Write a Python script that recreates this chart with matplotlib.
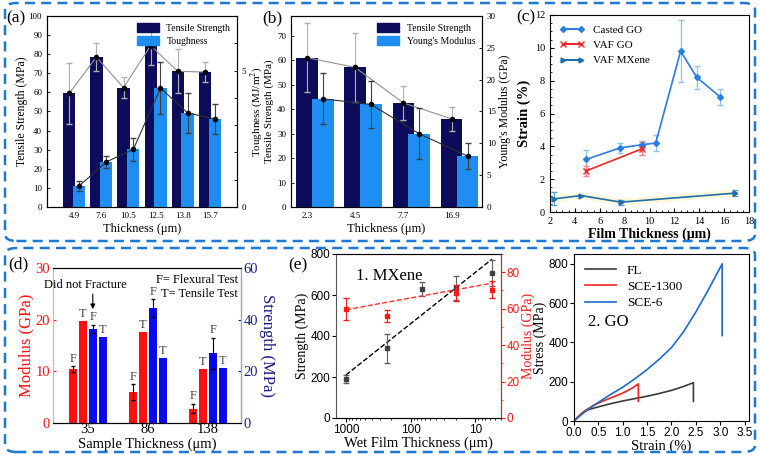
import matplotlib
matplotlib.use("Agg")
import matplotlib.pyplot as plt
import numpy as np
from matplotlib.patches import FancyBboxPatch, Patch
from matplotlib.lines import Line2D

# ---- data: (a) cast GO films
a_thick = ["4.9", "7.6", "10.5", "12.5", "13.8", "15.7"]
a_strength = [59.5, 78.5, 62.5, 84.5, 71.0, 70.7]
a_strength_err = [16.0, 7.5, 5.5, 10.0, 11.5, 5.3]
a_tough = [0.77, 1.65, 2.11, 4.36, 3.45, 3.23]
a_tough_err = [0.18, 0.21, 0.42, 0.96, 0.74, 0.55]

# ---- data: (b) MXene films
b_thick = ["2.3", "4.5", "7.7", "16.9"]
b_strength = [61.0, 57.0, 42.5, 36.0]
b_strength_err = [14.0, 14.0, 7.0, 5.0]
b_modulus = [17.0, 16.1, 11.5, 8.0]
b_modulus_err = [4.0, 3.7, 4.0, 2.0]

# ---- data: (c) strain
cg_x = [4.9, 7.6, 9.4, 10.5, 12.5, 13.8, 15.7]
cg_y = [3.2, 3.9, 4.1, 4.2, 9.8, 8.2, 7.0]
cg_err = [0.6, 0.3, 0.25, 0.5, 1.9, 0.7, 0.5]
vg_x = [4.9, 9.4]
vg_y = [2.5, 3.85]
vg_err = [0.3, 0.4]
vm_x = [2.3, 4.5, 7.7, 16.9]
vm_y = [0.8, 1.0, 0.6, 1.15]
vm_err = [0.4, 0.05, 0.15, 0.2]

# ---- data: (d) flexural / tensile
d_thick = ["35", "86", "138"]
mod_flex = [10.4, 6.0, 2.8]
mod_flex_err = [0.6, 1.5, 0.9]
mod_tens = [19.8, 17.7, 10.5]
str_flex = [36.5, 44.4, 27.0]
str_flex_err = [1.5, 3.5, 6.0]
str_tens = [33.4, 25.0, 21.2]

# ---- data: (e) MXene vs wet film thickness
wet = [1000, 233, 67, 20, 5.5]
mx_strength = [192, 340, 630, 635, 707]
mx_strength_err = [20, 70, 35, 60, 65]
wet_mod = [1000, 233, 20, 5.5]
mx_modulus = [60.0, 56.0, 68.5, 70.5]
mx_modulus_err = [6.0, 3.5, 4.5, 4.5]
fit_x = [1000, 5.5]
fit_strength = [210, 775]
fit_modulus = [59.4, 74.0]

# ---- data: (e) GO stress-strain
fl_strain = [0, 0.1, 0.2, 0.3, 0.5, 0.75, 1.0, 1.25, 1.5, 1.75, 2.0, 2.25, 2.45, 2.45]
fl_stress = [0, 25, 45, 58, 72, 88, 102, 114, 126, 140, 156, 176, 195, 100]
sce13_strain = [0, 0.1, 0.2, 0.4, 0.6, 0.8, 1.0, 1.2, 1.32, 1.32]
sce13_stress = [0, 25, 48, 80, 102, 122, 142, 168, 189, 100]
sce6_strain = [0, 0.1, 0.25, 0.5, 0.75, 1.0, 1.25, 1.5, 1.75, 2.0, 2.25, 2.5, 2.75, 3.04, 3.04]
sce6_stress = [0, 22, 52, 95, 135, 172, 215, 262, 315, 374, 455, 555, 665, 800, 435]

NAVY = "#0c0c5a"
LBLUE = "#1e8ff0"
SERIF = "Liberation Serif"
SANS = "Liberation Sans"

plt.rcParams["font.family"] = SERIF
plt.rcParams["mathtext.fontset"] = "stix"

W, H = 760, 455
fig = plt.figure(figsize=(7.6, 4.55), dpi=100)


def px_axes(l, t, r, b):
    return fig.add_axes([l / W, 1 - b / H, (r - l) / W, (b - t) / H])


# dashed boxes round the two rows
for (l, t, r, b) in [(5, 3, 755, 241), (5, 248, 755, 452)]:
    box = FancyBboxPatch((l / W, 1 - b / H), (r - l) / W, (b - t) / H,
                         boxstyle="round,pad=0,rounding_size=0.015",
                         transform=fig.transFigure, fill=False,
                         edgecolor="#1f78d1", lw=1.8, ls=(0, (4, 2.5)))
    fig.patches.append(box)

# ================= (a)
ax = px_axes(47, 16, 237, 207)
x = np.arange(len(a_thick))
ax.bar(x - 0.18, a_strength, 0.45, color=NAVY, zorder=2)
ax.errorbar(x - 0.18, a_strength, yerr=a_strength_err, fmt="none",
            ecolor="#b0b0b0", elinewidth=0.8, capsize=2, zorder=3)
ax.plot(x - 0.18, a_strength, "-o", color="#909090", mfc="k", mec="k",
        ms=3, lw=0.8, zorder=4)
ax.set_xlim(-1, 6)
ax.set_ylim(0, 100)
ax.set_yticks(range(0, 101, 10))
ax.set_xticks(x)
ax.set_xticklabels(a_thick)
ax.tick_params(labelsize=6.5, direction="in", length=2, width=0.6)
ax.tick_params(axis="x", length=0)
ax.set_ylabel("Tensile Strength (MPa)", fontsize=8.5)
ax.yaxis.set_label_coords(-0.1, 0.5)
ax.set_xlabel("Thickness (\u03bcm)", fontsize=9, labelpad=2)
ax2 = ax.twinx()
ax2.bar(x + 0.18, a_tough, 0.45, color=LBLUE, zorder=2)
ax2.errorbar(x + 0.18, a_tough, yerr=a_tough_err, fmt="none",
             ecolor="#404040", elinewidth=0.8, capsize=2, zorder=3)
ax2.plot(x + 0.18, a_tough, "-o", color="#303030", mfc="k", mec="k",
         ms=3, lw=0.8, zorder=4)
ax2.set_ylim(0, 7)
ax2.set_yticks(range(0, 8))
ax2.set_yticklabels(["0", "", "", "", "", "5", "", ""])
ax2.tick_params(labelsize=6.5, direction="in", length=2, width=0.6)
ax2.set_ylabel("Toughness (MJ/m$^2$)", fontsize=8)
ax2.yaxis.set_label_coords(1.058, 0.5)
ax2.legend(handles=[Patch(color=NAVY), Patch(color=LBLUE)],
           labels=["Tensile Strength", "Toughness"], loc="upper right",
           frameon=False, fontsize=7, handlelength=2.2, handleheight=1.1,
           borderaxespad=0.3, labelspacing=0.3)
fig.text(6 / W, 1 - 18 / H, "(a)", fontsize=12.5, va="center")

# ================= (b)
ax = px_axes(291, 16, 482, 207)
x = np.arange(len(b_thick))
ax.bar(x, b_strength, 0.45, color=NAVY, zorder=2)
ax.errorbar(x, b_strength, yerr=b_strength_err, fmt="none",
            ecolor="#b0b0b0", elinewidth=0.8, capsize=2, zorder=3)
ax.plot(x, b_strength, "-o", color="#909090", mfc="k", mec="k",
        ms=3, lw=0.8, zorder=4)
ax.set_xlim(-0.33, 3.63)
ax.set_ylim(0, 78)
ax.set_yticks(range(0, 71, 10))
ax.set_xticks(x)
ax.set_xticklabels(b_thick)
ax.tick_params(labelsize=6.5, direction="in", length=2, width=0.6)
ax.tick_params(axis="x", length=0)
ax.set_ylabel("Tensile Strength (MPa)", fontsize=8)
ax.yaxis.set_label_coords(-0.087, 0.5)
ax.set_xlabel("Thickness (\u03bcm)", fontsize=9, labelpad=2)
ax2 = ax.twinx()
ax2.bar(x + 0.33, b_modulus, 0.45, color=LBLUE, zorder=2)
ax2.errorbar(x + 0.33, b_modulus, yerr=b_modulus_err, fmt="none",
             ecolor="#404040", elinewidth=0.8, capsize=2, zorder=3)
ax2.plot(x + 0.33, b_modulus, "-o", color="#303030", mfc="k", mec="k",
         ms=3, lw=0.8, zorder=4)
ax2.set_ylim(0, 30)
ax2.set_yticks(range(0, 31, 5))
ax2.tick_params(labelsize=6.5, direction="in", length=2, width=0.6)
ax2.set_ylabel("Young's Modulus (GPa)", fontsize=8.5, labelpad=2)
ax2.legend(handles=[Patch(color=NAVY), Patch(color=LBLUE)],
           labels=["Tensile Strength", "Young's Modulus"], loc="upper right",
           frameon=False, fontsize=7, handlelength=2.2, handleheight=1.1,
           borderaxespad=0.3, labelspacing=0.3)
fig.text(262 / W, 1 - 18 / H, "(b)", fontsize=12.5, va="center")

# ================= (c)
ax = px_axes(550, 15, 749, 212)
CG = "#2a7de1"
VG = "#f02525"
VM = "#1e6ea8"
ax.plot(vm_x, vm_y, color="#fbf8dc", lw=5, zorder=1, solid_capstyle="round")
ax.errorbar(cg_x, cg_y, yerr=cg_err, fmt="-D", color=CG, ecolor="#8cc0ee",
            ms=3, lw=1.2, elinewidth=0.9, capsize=2, label="Casted GO")
ax.errorbar(vg_x, vg_y, yerr=vg_err, fmt="-x", color=VG, ecolor="#f08080",
            ms=4, lw=1.2, elinewidth=0.9, capsize=2, label="VAF GO")
ax.errorbar(vm_x, vm_y, yerr=vm_err, fmt="->", color=VM, ecolor="#5aa0c8",
            ms=3.5, lw=1.2, elinewidth=0.9, capsize=2, label="VAF MXene")
ax.set_xlim(2, 18)
ax.set_ylim(0, 12)
ax.set_xticks(range(2, 19, 2))
ax.set_yticks(range(0, 13, 2))
ax.minorticks_on()
ax.tick_params(which="both", direction="in", labelsize=7.5)
ax.tick_params(which="major", length=3)
ax.tick_params(which="minor", length=1.5)
ax.set_ylabel("Strain (%)", fontsize=10.5, fontweight="bold", labelpad=3)
ax.set_xlabel("Film Thickness (\u03bcm)", fontsize=10, fontweight="bold",
              labelpad=1)
ax.legend(handles=[Line2D([], [], color=CG, marker="D", ms=3),
                   Line2D([], [], color=VG, marker="x", ms=4),
                   Line2D([], [], color=VM, marker=">", ms=3.5)],
          labels=["Casted GO", "VAF GO", "VAF MXene"], loc="upper left",
          frameon=False, fontsize=8, numpoints=2, handlelength=2.2,
          labelspacing=0.5)
fig.text(516 / W, 1 - 17 / H, "(c)", fontsize=12.5, va="center")

# ================= (d)
ax = px_axes(53, 268, 241, 423)
RED = "#ff1010"
BLUE = "#0a0af0"
x = np.arange(len(d_thick))
w = 0.13
ax.bar(x - 0.25, mod_flex, w, color=RED, yerr=mod_flex_err, capsize=1.5,
       error_kw=dict(elinewidth=0.8))
ax.bar(x - 0.083, mod_tens, w, color=RED)
ax.set_xlim(-0.58, 2.55)
ax.set_ylim(0, 30)
ax.set_yticks([0, 10, 20, 30])
ax.set_xticks(x)
ax.set_xticklabels(d_thick)
ax.tick_params(labelsize=10.5, direction="in", length=2)
ax.tick_params(axis="x", length=0, pad=0)
ax.tick_params(axis="y", colors=RED, labelcolor=RED, pad=2)
ax.set_ylabel("Modulus (GPa)", fontsize=12, color=RED, labelpad=1)
ax.set_xlabel("Sample Thickness (\u03bcm)", fontsize=10.5)
ax.xaxis.set_label_coords(0.5, -0.095)
ax.spines["left"].set_color("#f4a0a0")
for i in range(len(d_thick)):
    ax.text(x[i] - 0.25, mod_flex[i] + mod_flex_err[i] + 0.3, "F",
            ha="center", va="bottom", fontsize=9, color="#444444")
    ax.text(x[i] - 0.083, mod_tens[i] + 0.2, "T",
            ha="center", va="bottom", fontsize=9, color="#444444")
ax2 = ax.twinx()
ax2.bar(x + 0.083, str_flex, w, color=BLUE, yerr=str_flex_err, capsize=1.5,
        error_kw=dict(elinewidth=0.8))
ax2.bar(x + 0.25, str_tens, w, color=BLUE)
ax2.set_ylim(0, 60)
ax2.set_yticks([0, 20, 40, 60])
ax2.tick_params(labelsize=10.5, direction="in", length=2, colors="#1c1c80",
                pad=2)
ax2.spines["right"].set_color("#a0a0e0")
ax2.spines["left"].set_visible(False)
ax2.set_ylabel("Strength (MPa)", fontsize=12, color="#1c1c80",
               rotation=270, labelpad=12)
for i in range(len(d_thick)):
    ax2.text(x[i] + 0.083, str_flex[i] + str_flex_err[i] + 0.6, "F",
             ha="center", va="bottom", fontsize=9, color="#444444")
    ax2.text(x[i] + 0.25, str_tens[i] + 0.4, "T",
             ha="center", va="bottom", fontsize=9, color="#444444")
ax2.text(0.985, 0.96, "F= Flexural Test\nT= Tensile Test", transform=ax2.transAxes,
         ha="right", va="top", fontsize=9, linespacing=1.15)
ax2.text(x[0] - 0.05, 53.5, "Did not Fracture", ha="center", va="center",
         fontsize=9)
ax2.annotate("", xy=(x[0] + 0.083, 43), xytext=(x[0] + 0.083, 51),
             arrowprops=dict(arrowstyle="-|>", color="k", lw=0.8,
                             mutation_scale=7))
fig.text(8 / W, 1 - 264 / H, "(d)", fontsize=12.5, va="center")

# ================= (e) left: MXene
ax = px_axes(336, 254, 501, 418)
GREY = "#404040"
ax.set_xscale("log")
ax.errorbar(wet, mx_strength, yerr=mx_strength_err, fmt="s", color=GREY,
            ecolor="#606060", ms=3, elinewidth=0.8, capsize=2, zorder=3)
ax.plot(fit_x, fit_strength, "--", color="k", lw=1)
ax.set_xlim(1426, 4)
ax.set_ylim(0, 800)
ax.set_yticks([0, 200, 400, 600, 800])
ax.set_xticks([1000, 100, 10])
ax.set_xticklabels(["1000", "100", "10"], fontfamily=SANS)
for lab in ax.get_yticklabels():
    lab.set_fontfamily(SANS)
ax.tick_params(labelsize=8.5, length=3, pad=1)
ax.tick_params(which="minor", length=1.5)
ax.set_ylabel("Strength (MPa)", fontsize=10, labelpad=1)
ax.set_xlabel("Wet Film Thickness (\u03bcm)", fontsize=10.5, labelpad=1)
for s in ["left", "top", "bottom"]:
    ax.spines[s].set_color("#555555")
ax.text(0.12, 0.84, "1. MXene", transform=ax.transAxes, fontsize=12)
ax2 = ax.twinx()
ax2.errorbar(wet_mod, mx_modulus, yerr=mx_modulus_err, fmt="s", color="#ff1a1a",
             ms=3, elinewidth=0.8, capsize=2, zorder=3)
ax2.plot(fit_x, fit_modulus, "--", color="#ff3030", lw=1)
ax2.set_ylim(0, 90)
ax2.set_yticks([0, 20, 40, 60, 80])
for lab in ax2.get_yticklabels():
    lab.set_fontfamily(SANS)
ax2.tick_params(labelsize=8.5, length=3, pad=1, colors="#ff1a1a")
ax2.tick_params(which="minor", length=1.5, colors="#ff1a1a")
ax2.yaxis.set_minor_locator(matplotlib.ticker.MultipleLocator(10))
ax2.spines["right"].set_color("#ff1a1a")
ax2.spines["left"].set_visible(False)
ax2.set_ylabel("Modulus (GPa)", fontsize=10, color="#ff1a1a", labelpad=1)
fig.text(288 / W, 1 - 265 / H, "(e)", fontsize=12.5, va="center")

# ================= (e) right: GO stress-strain
ax = px_axes(574, 254, 749, 421)
ax.plot(fl_strain, fl_stress, color="#3a3a3a", lw=1.2, label="FL")
ax.plot(sce13_strain, sce13_stress, color="#f02020", lw=1.2, label="SCE-1300")
ax.plot(sce6_strain, sce6_stress, color="#1c6cc4", lw=1.2, label="SCE-6")
ax.set_xlim(0, 3.59)
ax.set_ylim(0, 850)
ax.set_xticks(np.arange(0, 3.6, 0.5))
ax.set_yticks([0, 200, 400, 600, 800])
for lab in ax.get_xticklabels() + ax.get_yticklabels():
    lab.set_fontfamily(SANS)
ax.tick_params(labelsize=8.5, length=3, pad=1)
ax.set_xlabel("Strain (%)", fontsize=10.5, labelpad=1)
ax.set_ylabel("Stress (MPa)", fontsize=10, labelpad=1)
ax.legend(loc="upper left", frameon=False, fontsize=9.5, handlelength=2.4,
          labelspacing=0.3, borderaxespad=0.4)
ax.text(0.08, 0.57, "2. GO", transform=ax.transAxes, fontsize=12)

fig.savefig("out.png", dpi=100)
